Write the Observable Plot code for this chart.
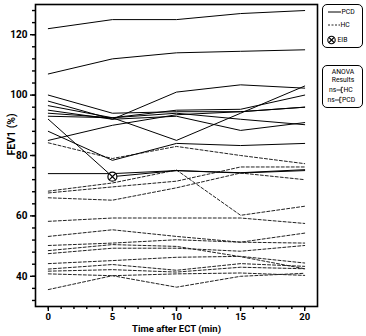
<!DOCTYPE html>
<html>
<head>
<meta charset="utf-8">
<script src="https://cdn.jsdelivr.net/npm/d3@7"></script>
<script src="https://cdn.jsdelivr.net/npm/@observablehq/plot@0.6"></script>
<style>
  html, body { margin: 0; padding: 0; background: #fff; }
  #wrap { position: relative; width: 366px; height: 336px; font-family: Roboto, "Liberation Sans", sans-serif; }
  .lg { position: absolute; border: 1px solid #000; border-radius: 5px; box-sizing: border-box; background: #fff; }
  .lg text { fill: #000; }
</style>
</head>
<body>
<div id="wrap"></div>
<script>
// ---- data ----
const times = [0, 5, 10, 15, 20];
// PCD (solid lines), FEV1 % at each time
const pcd1 = [122, 125, 125, 127, 128];
const pcd2 = [107, 112, 114, 114.5, 115];
const pcd3 = [100, 94, 94.5, 94.5, 96];
const pcd4 = [98, 92, 101, 103.4, 102.3];
const pcd5 = [96.5, 92.5, 95, 95.3, 100];
const pcd6 = [95, 92, 93, 88.3, 90.9];
const pcd7 = [94, 92.5, 85, 94, 103];
const pcd8 = [93, 92.5, 94, 92, 90.2];
const pcd9 = [85, 90, 93.5, 94.5, 96];
const pcd10 = [92, 73, 75, 74.2, 75];   // EIB patient
const pcd11 = [88, 78.4, 84, 83.3, 84];
const pcd12 = [74, 74, 75, 74.3, 75.3];
// HC (dashed lines)
const hc1 = [84.2, 79, 83, 80, 77.3];
const hc2 = [68.2, 70.9, 75.2, 60.2, 63.2];
const hc3 = [67.6, 69.6, 71.5, 76.2, 76.2];
const hc4 = [66, 65.2, 69.3, 74.2, 72];
const hc5 = [58.2, 59.3, 59.3, 59.3, 57.5];
const hc6 = [53.2, 55.4, 53.2, 51.3, 54.3];
const hc7 = [50.2, 51, 52.1, 51.3, 51];
const hc8 = [48.5, 50.5, 49.9, 46.5, 42.5];
const hc9 = [47.5, 49.3, 49.3, 48.3, 50.2];
const hc10 = [44.2, 45.2, 46.3, 46.6, 44.4];
const hc11 = [42.4, 43.9, 42, 44.2, 43.3];
const hc12 = [41.7, 42.2, 41.4, 43, 42.5];
const hc13 = [40.8, 40.2, 40.8, 41.1, 40.3];
const hc14 = [35.6, 40.2, 36.4, 40, 41];
// EIB marker
const eibTime = [5];
const eibValue = [73];
// ticks and labels
const xMajor = [0, 5, 10, 15, 20];
const xMinor = d3.range(0, 21, 1);
const yMajor = [40, 60, 80, 100, 120];
const yMinor = d3.range(32, 130, 4);
const xLabel = "Time after ECT (min)";
const yLabel = "FEV1 (%)";

const pcdSeries = [pcd1, pcd2, pcd3, pcd4, pcd5, pcd6, pcd7, pcd8, pcd9, pcd10, pcd11, pcd12];
const hcSeries = [hc1, hc2, hc3, hc4, hc5, hc6, hc7, hc8, hc9, hc10, hc11, hc12, hc13, hc14];
const toRows = (series, group) => series.flatMap((vals, i) => vals.map((v, j) => ({id: group + i, time: times[j], fev1: v})));
const pcdRows = toRows(pcdSeries, "PCD");
const hcRows = toRows(hcSeries, "HC");
const eibRows = eibTime.map((t, i) => ({time: t, fev1: eibValue[i]}));

const font = "Roboto, 'Liberation Sans', sans-serif";
const chart = Plot.plot({
  width: 366,
  height: 336,
  marginLeft: 35,
  marginRight: 49,
  marginTop: 4,
  marginBottom: 30,
  style: {fontFamily: font, background: "white", overflow: "visible"},
  x: {domain: [-1, 21]},
  y: {domain: [30, 130]},
  marks: [
    Plot.line(hcRows, {x: "time", y: "fev1", z: "id", stroke: "#222", strokeWidth: 1, strokeDasharray: "3,2"}),
    Plot.line(pcdRows, {x: "time", y: "fev1", z: "id", stroke: "#000", strokeWidth: 1}),
    Plot.dot(eibRows, {x: "time", y: "fev1", r: 4.5, stroke: "#000", fill: "white", strokeWidth: 1.2}),
    Plot.dot(eibRows, {x: "time", y: "fev1", r: 3.2, symbol: "times", stroke: "#000", strokeWidth: 1.2}),
    Plot.frame({stroke: "#000", strokeWidth: 1.6}),
    Plot.axisY(yMinor, {tickSize: 3, text: null, strokeWidth: 1.4, label: null}),
    Plot.axisY(yMajor, {tickSize: 5, tickPadding: 3, strokeWidth: 1.4, fontSize: 10, fontWeight: "bold", label: null}),
    Plot.axisX(xMinor, {tickSize: 3, text: null, strokeWidth: 1.4, label: null}),
    Plot.axisX(xMajor, {tickSize: 5, tickPadding: 2, strokeWidth: 1.4, fontSize: 9.5, fontWeight: "bold", label: null}),
    Plot.text([yLabel], {frameAnchor: "left", dx: -24, rotate: -90, fontSize: 10.5, fontWeight: "bold", text: d => d}),
    Plot.text([xLabel], {frameAnchor: "bottom", dy: 25, fontSize: 9.5, fontWeight: "bold", text: d => d})
  ]
});
const wrap = document.getElementById("wrap");
wrap.appendChild(chart);

// legend boxes
const fs = 6.8;
const lg1 = document.createElement("div");
lg1.className = "lg";
lg1.style.cssText = "left:322px;top:4px;width:41px;height:44px;";
lg1.innerHTML = `
  <svg width="41" height="44" style="position:absolute;left:0;top:0">
    <line x1="5" x2="18" y1="7" y2="7" stroke="#000" stroke-width="1"/>
    <text x="18.5" y="9.4" font-size="${fs}" font-family="${font}" fill="#000">PCD</text>
    <line x1="5" x2="17" y1="20" y2="20" stroke="#222" stroke-width="1" stroke-dasharray="2,1.5"/>
    <text x="17.5" y="22.4" font-size="${fs}" font-family="${font}" fill="#000">HC</text>
    <circle cx="8.5" cy="35" r="3.7" fill="none" stroke="#000" stroke-width="1.1"/>
    <line x1="6" x2="11" y1="32.5" y2="37.5" stroke="#000" stroke-width="1.1"/>
    <line x1="6" x2="11" y1="37.5" y2="32.5" stroke="#000" stroke-width="1.1"/>
    <text x="14.5" y="37.4" font-size="${fs}" font-family="${font}" fill="#000">EIB</text>
  </svg>`;
wrap.appendChild(lg1);

const lg2 = document.createElement("div");
lg2.className = "lg";
lg2.style.cssText = "left:322px;top:65px;width:41px;height:43px;";
lg2.innerHTML = `
  <svg width="41" height="43" style="position:absolute;left:0;top:0">
    <text x="20" y="8" text-anchor="middle" font-size="${fs}" font-family="${font}" fill="#000">ANOVA</text>
    <text x="20" y="16" text-anchor="middle" font-size="${fs}" font-family="${font}" fill="#000">Results</text>
    <text x="6" y="26" font-size="${fs}" font-family="${font}" fill="#000">ns</text>
    <line x1="13.5" x2="18" y1="24" y2="24" stroke="#000" stroke-width="0.8"/>
    <path d="M20 21.3 H18.3 V26.7 H20" fill="none" stroke="#000" stroke-width="0.8"/>
    <text x="20.5" y="26.3" font-size="${fs}" font-family="${font}" fill="#000">HC</text>
    <text x="4.5" y="36" font-size="${fs}" font-family="${font}" fill="#000">ns</text>
    <line x1="12" x2="16.5" y1="34" y2="34" stroke="#000" stroke-width="0.8"/>
    <path d="M18.5 31.3 H16.8 V36.7 H18.5" fill="none" stroke="#000" stroke-width="0.8"/>
    <text x="19" y="36.3" font-size="${fs}" font-family="${font}" fill="#000">PCD</text>
  </svg>`;
wrap.appendChild(lg2);
</script>
</body>
</html>
